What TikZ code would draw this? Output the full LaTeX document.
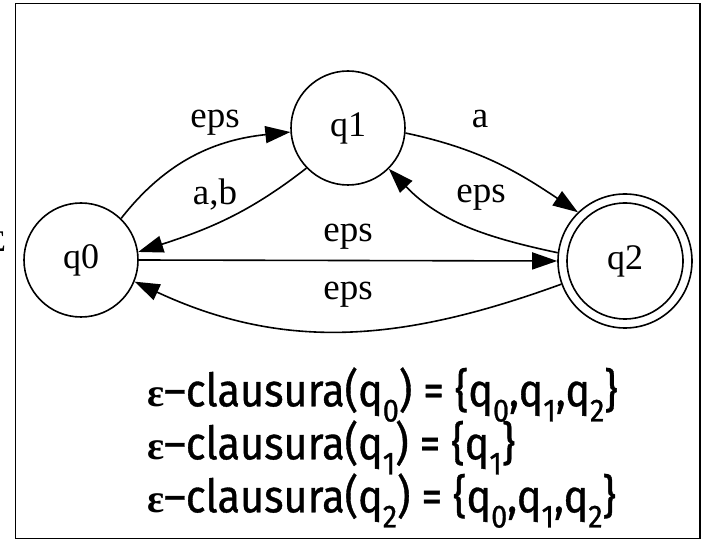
\documentclass[tikz,border=0pt]{standalone}
\usepackage{fontspec}
\setmainfont{Liberation Serif}
\newfontfamily\clfont[FakeStretch=0.9,FakeBold=0.8]{Fira Sans}
\newfontfamily\epsfont{Liberation Serif}
\usetikzlibrary{arrows.meta}
\tikzset{
  state/.style={draw, circle, line width=1.6pt, inner sep=0pt, minimum size=114pt,
     font=\fontsize{36}{36}\selectfont},
  edge/.style={line width=1.6pt, -{Triangle[length=25pt,width=17pt]}},
  elabel/.style={anchor=mid, inner sep=0pt, font=\fontsize{37}{37}\selectfont},
  clline/.style={anchor=mid west, inner sep=0pt, font=\clfont\fontsize{46}{46}\selectfont},
  frame/.style={draw, line width=1.6pt}
}
\newcommand{\sbs}[1]{\raisebox{-0.33em}{\fontsize{32}{32}\selectfont #1}}
\newcommand{\epsg}{{\epsfont\bfseries\fontsize{40}{40}\selectfont ε}}
\begin{document}
\begin{tikzpicture}[x=1pt,y=1pt]
\useasboundingbox (0,0) rectangle (706,541);
\fill[white] (0,0) rectangle (706,541);
\draw[frame] (15.5,2.5) rectangle (700,537.5);
\begin{scope}
\clip (0,0) rectangle (10,541);
\node[anchor=mid east, inner sep=0pt, font=\fontsize{30}{30}\selectfont] (sig) at (6,292) {Σ};
\end{scope}
% states
\node[state] (q0) at (81,281) {q0};
\node[state] (q1) at (348,413) {q1};
\node[state, minimum size=116pt] (q2) at (625,280) {q2};
\node[draw, circle, line width=1.6pt, inner sep=0pt, minimum size=134pt] (q2o) at (625,280) {};
% edges
\draw[edge] (q0.46) to[out=52,in=186] (q1.184);
\draw[edge] (q1.224) to[out=218,in=18] (q0.8);
\draw[edge] (q1.-5) to[out=-12,in=146] (q2o.134);
\draw[edge] (q2o.173) to[out=168,in=-46] (q1.-45);
\draw[edge] (q0.east) -- (q2o.west);
\draw[edge] (q2o.200) to[out=200,in=-25] (q0.-22);
% labels
\node[elabel] (l1) at (215,416) {eps};
\node[elabel] (l2) at (215,339) {a,b};
\node[elabel] (l3) at (480,416) {a};
\node[elabel] (l4) at (481,341) {eps};
\node[elabel] (l5) at (348,302) {eps};
\node[elabel] (l6) at (348,244) {eps};
% closures
\node[clline] (c0) at (147,137) {\epsg–clausura(q\sbs{0}) = \{q\sbs{0},q\sbs{1},q\sbs{2}\}};
\node[clline] (c1) at (147,84) {\epsg–clausura(q\sbs{1}) = \{q\sbs{1}\}};
\node[clline] (c2) at (147,31) {\epsg–clausura(q\sbs{2}) = \{q\sbs{0},q\sbs{1},q\sbs{2}\}};
\end{tikzpicture}
\end{document}
